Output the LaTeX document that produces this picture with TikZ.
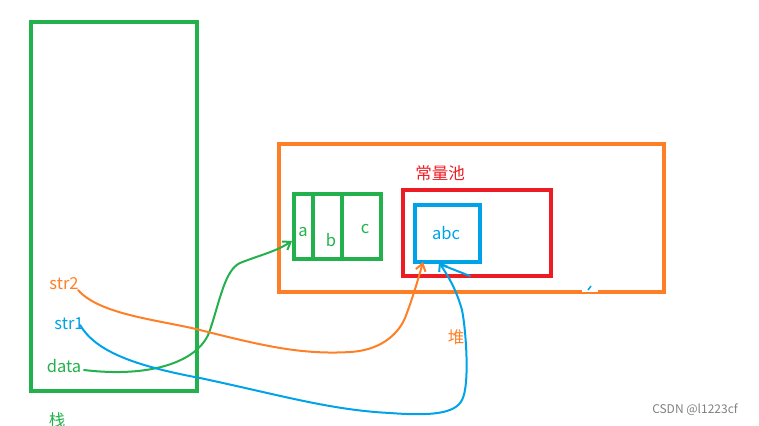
\documentclass[tikz,border=0pt]{standalone}
\usepackage{fontspec}
\setmainfont{Noto Sans CJK SC}
\usetikzlibrary{arrows.meta}
\definecolor{cgreen}{RGB}{34,177,76}
\definecolor{corange}{RGB}{255,127,39}
\definecolor{cred}{RGB}{237,28,36}
\definecolor{cblue}{RGB}{0,162,232}
\begin{document}
\begin{tikzpicture}[x=1pt,y=-1pt,
  frame/.style={line width=4pt},
  lbl/.style={font=\fontsize{16.5}{16.5}\selectfont, inner sep=0pt},
  wire/.style={line width=2pt, line cap=round, line join=round},
  tip/.style={-{Straight Barb[length=7pt,width=10pt,line width=2pt]}}]
\useasboundingbox (0,0) rectangle (759,425);
% stack
\node[draw=cgreen, frame, minimum width=166pt, minimum height=369pt, anchor=north west, inner sep=0pt] (stack) at (29,20) {};
% heap
\node[draw=corange, frame, line width=3.5pt, minimum width=385pt, minimum height=148pt, anchor=north west, inner sep=0pt] (heap) at (277,142) {};
% pool
\node[draw=cred, frame, minimum width=148pt, minimum height=86pt, anchor=north west, inner sep=0pt] (pool) at (401,188) {};
\node[lbl, text=cred] (poollbl) at (440,173) {常量池};
% abc box
\node[draw=cblue, frame, minimum width=65pt, minimum height=57pt, anchor=north west, inner sep=0pt] (abcbox) at (413,203) {};
\node[lbl, text=cblue] (abc) at (446,233) {abc};
% array
\node[draw=cgreen, frame, minimum width=87pt, minimum height=65pt, anchor=north west, inner sep=0pt] (arr) at (292,192) {};
\coordinate (d1t) at (313,192); \coordinate (d1b) at (313,257);
\coordinate (d2t) at (342,192); \coordinate (d2b) at (342,259);
\draw[cgreen, line width=3.5pt] (d1t) -- (d1b);
\draw[cgreen, line width=3.5pt] (d2t) -- (d2b);
\node[lbl, text=cgreen] (la) at (303,232) {a};
\node[lbl, text=cgreen] (lb) at (331,240) {b};
\node[lbl, text=cgreen] (lc) at (365,229) {c};
% labels in stack
\node[lbl, text=corange] (str2) at (64,284) {str2};
\node[lbl, text=cblue] (str1) at (69,324) {str1};
\node[lbl, text=cgreen] (data) at (64,366) {data};
\node[lbl, text=cgreen] (zhan) at (57,420) {栈};
\node[lbl, text=corange] (dui) at (456,337) {堆};
\node[font=\fontsize{12}{12}\selectfont, text=gray, inner sep=0pt] (csdn) at (695,410) {CSDN @l1223cf};
% small mark on heap bottom
\coordinate (m1) at (582,290); \coordinate (m2) at (598,290);
\draw[white, line width=4pt] (m1) -- (m2);
\coordinate (t1) at (588,290); \coordinate (t2) at (591,286);
\draw[cblue, line width=1.5pt] (t1) -- (t2);
% curves
\coordinate (gs) at (84,370);
\coordinate (ge) at (292,241);
\draw[cgreen, wire, tip] (gs) .. controls (150,378) and (200,362) .. (210,330)
  .. controls (220,300) and (225,270) .. (240,263)
  .. controls (260,255) and (275,252) .. (ge);
\coordinate (os) at (78,290);
\coordinate (oe) at (423,262);
\draw[corange, wire, tip] (os) .. controls (100,315) and (160,320) .. (200,330)
  .. controls (260,345) and (300,355) .. (350,352)
  .. controls (385,350) and (400,330) .. (405,318)
  .. controls (412,300) and (418,280) .. (oe);
\coordinate (bs) at (80,325);
\coordinate (be) at (439,262);
\draw[cblue, wire, tip] (bs) .. controls (95,350) and (130,365) .. (200,378)
  .. controls (280,395) and (330,410) .. (390,413)
  .. controls (430,416) and (455,414) .. (462,400)
  .. controls (470,385) and (466,330) .. (462,310)
  .. controls (455,285) and (445,272) .. (be);
\coordinate (bx1) at (442,265); \coordinate (bx2) at (470,276);
\draw[cblue, wire] (bx1) -- (bx2);
\end{tikzpicture}
\end{document}
